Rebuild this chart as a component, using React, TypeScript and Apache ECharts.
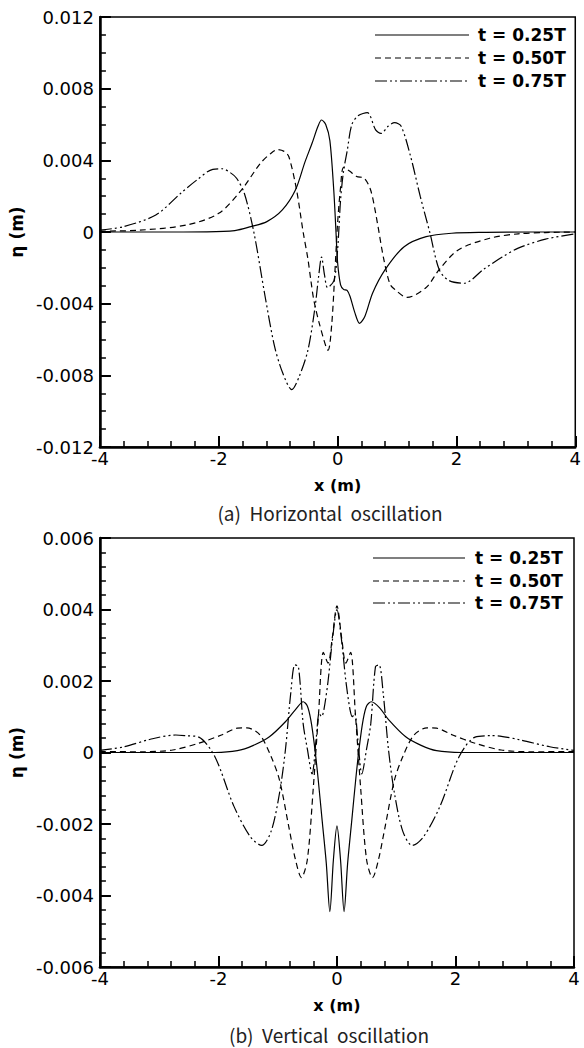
import React, { useEffect, useRef } from "react";
import * as echarts from "echarts";

const SERIES_NAMES = ["t = 0.25T", "t = 0.50T", "t = 0.75T"];
const PANEL_TITLES = ["(a)  Horizontal  oscillation", "(b)  Vertical  oscillation"];
const X_NAME = "x (m)";
const Y_NAME = "η (m)";

// Panel (a): horizontal oscillation
const TOP_A_X = [-4, -3, -2.2, -1.73, -1.46, -1.19, -0.93, -0.71, -0.55, -0.43, -0.33, -0.27, -0.2, -0.13, -0.064, -0.03, 0, 0.05, 0.1, 0.16, 0.21, 0.29, 0.37, 0.46, 0.59, 0.8, 1.12, 1.49, 1.92, 2.5, 3.2, 4];
const TOP_A_Y = [0, 0, 0.00001, 0.00008, 0.0003, 0.00058, 0.00123, 0.00234, 0.0039, 0.00495, 0.0059, 0.00625, 0.006, 0.0051, 0.0023, 0.0002, -0.0017, -0.00295, -0.0032, -0.00326, -0.0036, -0.0045, -0.0051, -0.0047, -0.0034, -0.0021, -0.00082, -0.00026, -0.00007, -0.00002, 0, 0];

const TOP_B_X = [-4, -3.33, -2.53, -2, -1.62, -1.3, -1.12, -1.01, -0.9, -0.82, -0.69, -0.58, -0.5, -0.45, -0.4, -0.3, -0.16, -0.1, -0.05, 0, 0.05, 0.1, 0.2, 0.32, 0.45, 0.56, 0.67, 0.77, 0.88, 0.96, 1.17, 1.49, 1.71, 2.03, 2.56, 3.04, 3.5, 4];
const TOP_B_Y = [0.00005, 0.0001, 0.0004, 0.00104, 0.00234, 0.00383, 0.0044, 0.0046, 0.0045, 0.0042, 0.00234, 0, -0.0015, -0.0027, -0.0038, -0.0052, -0.0066, -0.0052, -0.0025, 0.0005, 0.0025, 0.0036, 0.0034, 0.0031, 0.003, 0.0023, 0.0005, -0.0014, -0.0029, -0.0032, -0.00365, -0.0031, -0.0021, -0.001, -0.00035, -0.0001, -0.00003, 0];

const TOP_C_X = [-4, -3.6, -3.06, -2.64, -2.37, -2.1, -1.94, -1.8, -1.7, -1.57, -1.41, -1.22, -1.06, -0.92, -0.77, -0.65, -0.5, -0.38, -0.32, -0.27, -0.22, -0.17, -0.06, 0, 0.05, 0.1, 0.16, 0.24, 0.35, 0.5, 0.64, 0.73, 0.85, 0.96, 1.07, 1.23, 1.39, 1.55, 1.71, 1.87, 2.13, 2.45, 2.77, 3.04, 3.5, 4];
const TOP_C_Y = [0.0001, 0.0003, 0.00095, 0.00216, 0.0029, 0.0035, 0.00353, 0.0033, 0.003, 0.00216, 0, -0.0036, -0.0064, -0.0079, -0.0088, -0.0081, -0.0066, -0.0042, -0.0025, -0.0014, -0.0024, -0.0031, -0.0027, -0.001, 0.0018, 0.0034, 0.0045, 0.006, 0.0065, 0.00666, 0.0057, 0.0055, 0.0059, 0.0061, 0.0059, 0.0042, 0.002, 0, -0.0021, -0.0027, -0.00286, -0.0021, -0.0014, -0.0009, -0.0004, -0.0001];

// Panel (b): vertical oscillation
const BOT_A_X = [-4, -2.06, -1.68, -1.41, -1.14, -0.87, -0.7, -0.57, -0.5, -0.44, -0.38, -0.32, -0.25, -0.18, -0.12, -0.06, 0, 0.06, 0.12, 0.18, 0.25, 0.32, 0.38, 0.44, 0.5, 0.58, 0.72, 0.87, 1.16, 1.42, 1.68, 2.1, 4];
const BOT_A_Y = [0, 0, 0.00005, 0.0002, 0.00044, 0.00086, 0.0012, 0.00142, 0.0013, 0.0009, 0.0002, -0.0007, -0.0019, -0.0031, -0.00445, -0.003, -0.00205, -0.003, -0.00445, -0.0031, -0.0019, -0.0007, 0.0002, 0.0009, 0.0013, 0.00142, 0.00125, 0.00092, 0.00044, 0.0002, 0.00005, 0, 0];

const BOT_B_X = [-4, -3.3, -2.77, -2.33, -1.95, -1.68, -1.52, -1.3, -1.11, -0.97, -0.81, -0.7, -0.6, -0.5, -0.4, -0.31, -0.23, -0.15, -0.08, 0, 0.08, 0.15, 0.23, 0.31, 0.4, 0.5, 0.6, 0.7, 0.81, 0.97, 1.11, 1.3, 1.52, 1.68, 1.95, 2.33, 2.77, 3.3, 4];
const BOT_B_Y = [0.00003, 0.00002, 0.00007, 0.00026, 0.00049, 0.00068, 0.00069, 0.00049, -0.00012, -0.00077, -0.0021, -0.003, -0.0035, -0.003, -0.001, 0.0011, 0.0028, 0.0025, 0.0032, 0.0041, 0.0032, 0.0025, 0.0028, 0.0011, -0.001, -0.003, -0.0035, -0.003, -0.0021, -0.00077, -0.00012, 0.00049, 0.00069, 0.00068, 0.00049, 0.00026, 0.00007, 0.00002, 0.00003];

const BOT_C_X = [-4, -3.59, -3.15, -2.72, -2.55, -2.33, -2.06, -1.74, -1.46, -1.27, -1.11, -0.97, -0.87, -0.78, -0.71, -0.65, -0.57, -0.5, -0.42, -0.35, -0.3, -0.26, -0.22, -0.15, -0.08, 0, 0.08, 0.15, 0.22, 0.26, 0.3, 0.35, 0.42, 0.5, 0.57, 0.65, 0.71, 0.78, 0.87, 0.97, 1.11, 1.27, 1.46, 1.74, 2.06, 2.33, 2.6, 2.75, 3.1, 3.59, 4];
const BOT_C_Y = [0.00006, 0.00016, 0.00037, 0.00049, 0.00047, 0.00043, -0.00012, -0.0015, -0.00236, -0.0026, -0.0022, -0.00114, 0.00007, 0.00166, 0.00245, 0.0024, 0.0008, 0.0001, -0.0006, 0.0004, 0.0011, 0.001, 0.0012, 0.002, 0.0031, 0.004, 0.0031, 0.002, 0.0012, 0.001, 0.0011, 0.0004, -0.0006, 0.0001, 0.0008, 0.0024, 0.00245, 0.00166, 0.00007, -0.00114, -0.0022, -0.0026, -0.00236, -0.0015, -0.00012, 0.00043, 0.00047, 0.00046, 0.00035, 0.00016, 0.00006];

const zip = (xs: number[], ys: number[]) => xs.map((x, i) => [x, ys[i]]);

const LINE_DASHES: any[] = [null, [6, 4], [12, 3, 2, 3, 2, 3]];
const FONT = "DejaVu Sans";

function makeX(gridIndex: number) {
  return {
    type: "value",
    gridIndex,
    min: -4,
    max: 4,
    interval: 2,
    name: X_NAME,
    nameLocation: "middle",
    nameGap: 30,
    nameTextStyle: { fontFamily: FONT, fontWeight: "bold", fontSize: 16, color: "#000" },
    axisLine: { show: true, onZero: false, lineStyle: { color: "#000", width: 2.5 } },
    axisTick: { show: true, inside: true, length: 11, lineStyle: { color: "#000", width: 2 } },
    minorTick: { show: true, splitNumber: 5, length: 6, lineStyle: { color: "#000", width: 1.5 } },
    splitLine: { show: false },
    axisLabel: {
      margin: 2,
      fontFamily: FONT,
      fontSize: 18,
      color: "#000",
      formatter: (v: number) => String(Math.round(v)),
    },
  };
}

function makeY(gridIndex: number, min: number, max: number, interval: number, minor: number) {
  return {
    type: "value",
    gridIndex,
    min,
    max,
    interval,
    name: Y_NAME,
    nameLocation: "middle",
    nameRotate: 90,
    nameGap: 54,
    nameTextStyle: { fontFamily: FONT, fontWeight: "bold", fontSize: 17, color: "#000" },
    axisLine: { show: true, onZero: false, lineStyle: { color: "#000", width: 2.5 } },
    axisTick: { show: true, inside: true, length: 11, lineStyle: { color: "#000", width: 2 } },
    minorTick: { show: true, splitNumber: minor, length: 6, lineStyle: { color: "#000", width: 1.5 } },
    splitLine: { show: false },
    axisLabel: {
      margin: 6,
      fontFamily: FONT,
      fontSize: 18,
      color: "#000",
      formatter: (v: number) => (Math.abs(v) < 1e-12 ? "0" : v.toFixed(3)),
    },
  };
}

function makeSeries(name: string, idx: number, grid: number, data: number[][]) {
  return {
    type: "line",
    name,
    xAxisIndex: grid,
    yAxisIndex: grid,
    data,
    symbol: "none",
    smooth: 0.3,
    clip: true,
    lineStyle: { color: "#000", width: 1.2, type: LINE_DASHES[idx] || "solid" },
    itemStyle: { color: "#000" },
  };
}

// legend drawn as graphic: sample line + label for each series
function makeLegendGraphic(x0: number, x1: number, textX: number, rowYs: number[]) {
  const items: any[] = [];
  SERIES_NAMES.forEach((name, i) => {
    const y = rowYs[i];
    items.push({
      type: "line",
      shape: { x1: x0, y1: y, x2: x1, y2: y },
      style: { stroke: "#000", lineWidth: 1.2, lineDash: LINE_DASHES[i] || undefined },
      silent: true,
    });
    items.push({
      type: "text",
      x: textX,
      y,
      style: {
        text: name,
        textAlign: "left",
        textVerticalAlign: "middle",
        fontFamily: FONT,
        fontWeight: "bold",
        fontSize: 17,
        fill: "#000",
      },
      silent: true,
    });
  });
  return items;
}

export default function App() {
  const ref = useRef<HTMLDivElement>(null);
  useEffect(() => {
    document.body.style.margin = "0";
    if (!ref.current) return;
    const chart = echarts.init(ref.current, null, { renderer: "svg" });
    const topData = [zip(TOP_A_X, TOP_A_Y), zip(TOP_B_X, TOP_B_Y), zip(TOP_C_X, TOP_C_Y)];
    const botData = [zip(BOT_A_X, BOT_A_Y), zip(BOT_B_X, BOT_B_Y), zip(BOT_C_X, BOT_C_Y)];
    const option: any = {
      animation: false,
      backgroundColor: "#fff",
      grid: [
        { left: 80, top: 17, width: 500, height: 430, show: true, borderColor: "#000", borderWidth: 1.5, backgroundColor: "transparent" },
        { left: 84, top: 538, width: 490, height: 429, show: true, borderColor: "#000", borderWidth: 1.5, backgroundColor: "transparent" },
      ],
      xAxis: [makeX(0), makeX(1)],
      yAxis: [makeY(0, -0.012, 0.012, 0.004, 4), makeY(1, -0.006, 0.006, 0.002, 5)],
      series: [
        ...topData.map((d, i) => makeSeries(SERIES_NAMES[i], i, 0, d)),
        ...botData.map((d, i) => makeSeries(SERIES_NAMES[i], i, 1, d)),
      ],
      graphic: [
        ...makeLegendGraphic(375, 469, 478, [35, 58, 81]),
        ...makeLegendGraphic(373, 465, 475, [558, 581, 603]),
        {
          type: "text",
          x: 330,
          y: 512,
          style: {
            text: PANEL_TITLES[0],
            textAlign: "center",
            textVerticalAlign: "middle",
            fontFamily: "Noto Sans CJK KR",
            fontSize: 19,
            fill: "#222",
          },
        },
        {
          type: "text",
          x: 329,
          y: 1034,
          style: {
            text: PANEL_TITLES[1],
            textAlign: "center",
            textVerticalAlign: "middle",
            fontFamily: "Noto Sans CJK KR",
            fontSize: 19,
            fill: "#222",
          },
        },
      ],
    };
    chart.setOption(option);
    return () => chart.dispose();
  }, []);
  return <div ref={ref} style={{ width: 584, height: 1048 }} />;
}
